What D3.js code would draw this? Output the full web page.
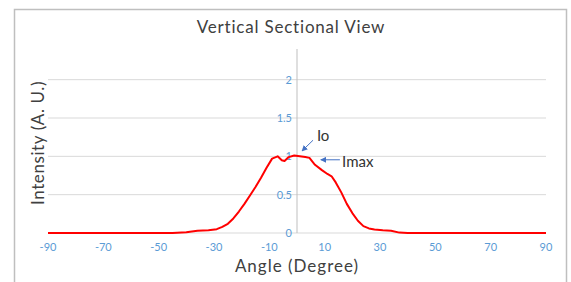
<!DOCTYPE html>
<html>
<head>
<meta charset="utf-8">
<script src="https://cdn.jsdelivr.net/npm/d3@7"></script>
<style>
  body { margin: 0; background: #fff; }
  svg { display: block; font-family: Lato, "Open Sans", sans-serif; }
</style>
</head>
<body>
<svg id="chart"></svg>
<script>
// angle in degrees, intensity in arbitrary units
const angles = [-90, -45, -40, -36, -32, -29, -27, -25, -23, -21, -19, -17, -15, -13, -11, -9, -7, -5.5, -4.5, -3, -1,
                1, 3, 4.5, 6.5, 9, 11, 12.5, 14, 16, 18, 20, 22, 24, 26, 28, 31, 34, 37, 40, 90];
const intensity = [0, 0, 0.01, 0.03, 0.035, 0.05, 0.08, 0.12, 0.19, 0.28, 0.38, 0.49, 0.60, 0.72, 0.85, 0.97, 1.0, 0.95, 0.94, 0.99, 1.01,
                   1.0, 0.99, 0.98, 0.89, 0.82, 0.77, 0.74, 0.66, 0.53, 0.38, 0.26, 0.16, 0.09, 0.06, 0.045, 0.035, 0.03, 0.005, 0, 0];
const xTicks = [-90, -70, -50, -30, -10, 10, 30, 50, 70, 90];
const yTicks = [0, 0.5, 1, 1.5, 2];
const notes = [
  { label: 'Io', at: [7.2, 1.27], from: [5.8, 1.21], to: [1.8, 1.07] },
  { label: 'Imax', at: [16.3, 0.935], from: [15.5, 0.955], to: [8.6, 0.955] }
];

const width = 571, height = 282;
const margin = { top: 49, right: 25, bottom: 49, left: 48 };

const svg = d3.select('#chart')
  .attr('width', width)
  .attr('height', height);

// outer frame
svg.append('rect')
  .attr('x', 14.5).attr('y', 9.5)
  .attr('width', 552).attr('height', 290)
  .attr('fill', 'none')
  .attr('stroke', '#bfbfbf')
  .attr('stroke-width', 1.5);

const x = d3.scaleLinear().domain([-90, 90]).range([margin.left, width - margin.right]);
const y = d3.scaleLinear().domain([0, 2.4]).range([height - margin.bottom, margin.top]);

// gridlines
svg.append('g')
  .selectAll('line')
  .data(yTicks)
  .join('line')
  .attr('x1', x(-90)).attr('x2', x(90))
  .attr('y1', d => y(d)).attr('y2', d => y(d))
  .attr('stroke', '#d9d9d9')
  .attr('stroke-width', 1);

// vertical axis at 0
svg.append('line')
  .attr('x1', x(0)).attr('x2', x(0))
  .attr('y1', y(0)).attr('y2', y(2.4))
  .attr('stroke', '#bfbfbf');

// y tick labels beside the zero line
svg.append('g')
  .selectAll('text')
  .data(yTicks)
  .join('text')
  .attr('x', x(0) - 5)
  .attr('y', d => y(d))
  .attr('dy', '0.35em')
  .attr('text-anchor', 'end')
  .attr('fill', '#5b9bd5')
  .style('font-size', '11px')
  .text(d => d);

// x tick labels
svg.append('g')
  .selectAll('text')
  .data(xTicks)
  .join('text')
  .attr('x', d => x(d))
  .attr('y', y(0) + 14)
  .attr('dy', '0.35em')
  .attr('text-anchor', 'middle')
  .attr('fill', '#5b9bd5')
  .style('font-size', '11px')
  .text(d => d);

// curve
const line = d3.line()
  .x(d => x(d[0]))
  .y(d => y(d[1]));

svg.append('path')
  .datum(angles.map((a, i) => [a, intensity[i]]))
  .attr('d', line)
  .attr('fill', 'none')
  .attr('stroke', '#ff0000')
  .attr('stroke-width', 2)
  .attr('stroke-linejoin', 'round');

// annotations
svg.append('defs').append('marker')
  .attr('id', 'head')
  .attr('viewBox', '0 0 10 10')
  .attr('refX', 9).attr('refY', 5)
  .attr('markerWidth', 6).attr('markerHeight', 6)
  .attr('orient', 'auto')
  .append('path')
  .attr('d', 'M0,0 L10,5 L0,10 z')
  .attr('fill', '#4472c4');

notes.forEach(n => {
  svg.append('line')
    .attr('x1', x(n.from[0])).attr('y1', y(n.from[1]))
    .attr('x2', x(n.to[0])).attr('y2', y(n.to[1]))
    .attr('stroke', '#4472c4')
    .attr('stroke-width', 1)
    .attr('marker-end', 'url(#head)');
  svg.append('text')
    .attr('x', x(n.at[0]))
    .attr('y', y(n.at[1]))
    .attr('dy', '0.35em')
    .attr('fill', '#333')
    .style('font-size', '15px')
    .text(n.label);
});

// titles
svg.append('text')
  .attr('x', 291).attr('y', 27)
  .attr('dy', '0.35em')
  .attr('text-anchor', 'middle')
  .attr('fill', '#404040')
  .style('font-size', '17px')
  .style('letter-spacing', '0.8px')
  .text('Vertical Sectional View');

svg.append('text')
  .attr('x', x(0)).attr('y', 266)
  .attr('dy', '0.35em')
  .attr('text-anchor', 'middle')
  .attr('fill', '#404040')
  .style('font-size', '17px')
  .style('letter-spacing', '1px')
  .text('Angle (Degree)');

svg.append('text')
  .attr('transform', 'translate(38,143) rotate(-90)')
  .attr('dy', '0.35em')
  .attr('text-anchor', 'middle')
  .attr('fill', '#404040')
  .style('font-size', '17px')
  .style('letter-spacing', '0.6px')
  .text('Intensity (A. U.)');
</script>
</body>
</html>
